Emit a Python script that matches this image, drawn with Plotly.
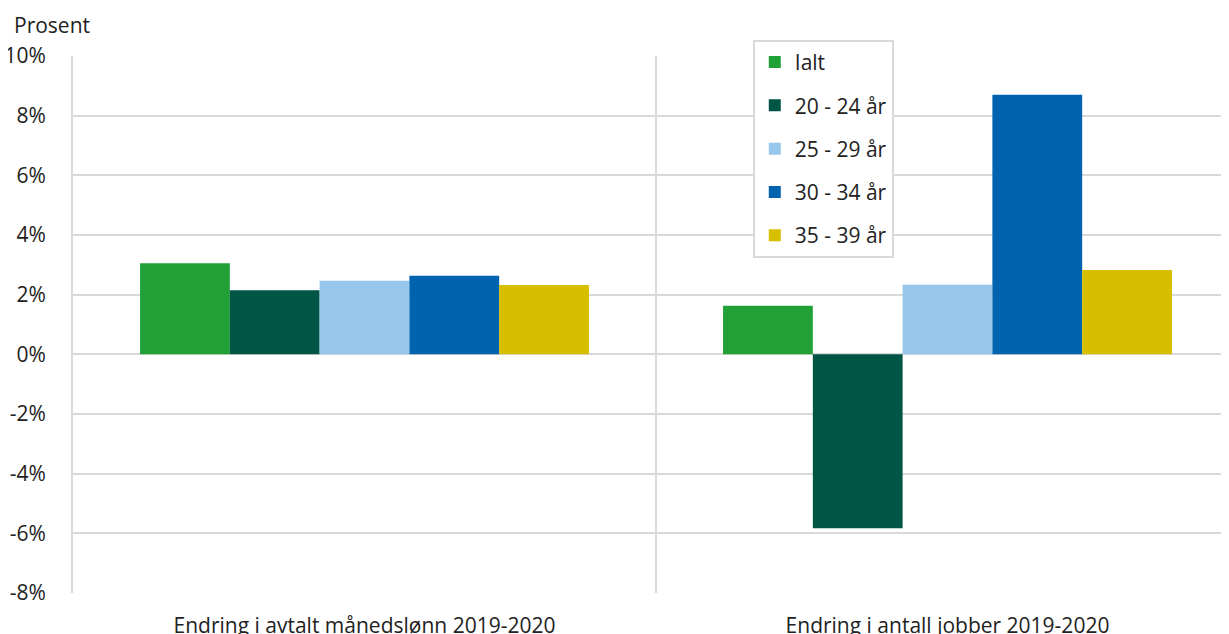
import plotly.graph_objects as go

categories = ["Endring i avtalt månedslønn 2019-2020", "Endring i antall jobber 2019-2020"]
series_names = ["Ialt", "20 - 24 år", "25 - 29 år", "30 - 34 år", "35 - 39 år"]
ialt = [3.05, 1.63]
age_20_24 = [2.15, -5.83]
age_25_29 = [2.47, 2.33]
age_30_34 = [2.63, 8.7]
age_35_39 = [2.32, 2.83]
tick_values = [-8, -6, -4, -2, 0, 2, 4, 6, 8, 10]
tick_labels = ["-8%", "-6%", "-4%", "-2%", "0%", "2%", "4%", "6%", "8%", "10%"]

colors = ["#21a038", "#005545", "#97c7eb", "#0063af", "#d7bf00"]
series = [ialt, age_20_24, age_25_29, age_30_34, age_35_39]

fig = go.Figure()
for i, (name, vals) in enumerate(zip(series_names, series)):
    fig.add_trace(go.Bar(
        x=categories,
        y=vals,
        name=name,
        legendgroup=name,
        marker=dict(color=colors[i], line=dict(width=0)),
    ))

# page body has an 8px margin; the plot area runs slightly past the right edge of the window
font = "Open Sans, Noto Sans, sans-serif"
grid = "#d9d9d9"
fig.update_layout(
    width=1240,
    height=626,
    barmode="group",
    bargap=0.23,
    bargroupgap=0,
    plot_bgcolor="white",
    paper_bgcolor="white",
    margin=dict(l=65, r=9, t=48, b=41),
    font=dict(family=font, size=21, color="#222222"),
    legend=dict(
        x=0.583, y=1.03, xanchor="left", yanchor="top",
        bgcolor="white",
        bordercolor=grid,
        borderwidth=2,
        font=dict(size=21, color="#222222"),
        traceorder="grouped",
        tracegroupgap=13,
        itemwidth=30,
    ),
    xaxis=dict(
        type="category",
        tickson="boundaries",
        showgrid=True,
        gridcolor=grid,
        gridwidth=2,
        ticks="",
        showline=False,
        zeroline=False,
        automargin=False,
        tickfont=dict(size=21),
        ticklabelstandoff=18,
    ),
    yaxis=dict(
        range=[-8, 10],
        tickvals=tick_values,
        ticktext=tick_labels,
        showgrid=True,
        gridcolor=grid,
        gridwidth=2,
        zeroline=True,
        zerolinecolor=grid,
        zerolinewidth=2,
        showline=True,
        linecolor=grid,
        linewidth=2,
        automargin=False,
        ticks="",
        tickfont=dict(size=21),
        ticklabelstandoff=21,
    ),
    annotations=[dict(
        text="Prosent", xref="paper", yref="paper",
        x=-0.052, y=1.058, xanchor="left", yanchor="middle",
        showarrow=False, font=dict(size=21, color="#222222"),
    )],
)

fig.write_html("out.html")
